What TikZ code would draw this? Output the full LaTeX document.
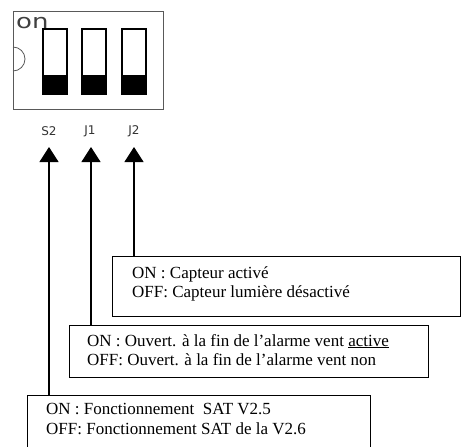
\documentclass[tikz,border=0pt]{standalone}
\usepackage{fontspec}
\setmainfont{Liberation Serif}
\newfontfamily\labelfont{DejaVu Sans}
\newfontfamily\onfont[FakeStretch=1.3]{DejaVu Sans}
\usetikzlibrary{arrows.meta}
\begin{document}
\begin{tikzpicture}[x=1pt,y=-1pt,
  housing/.style={draw=black!65, line width=0.8pt},
  switchbox/.style={draw=black, line width=1.3pt},
  swlabel/.style={font=\labelfont\fontsize{12}{13}\selectfont, text=black!80, inner sep=0pt},
  infobox/.style={draw=black, line width=1pt, anchor=north west, inner sep=0pt},
  infotext/.style={font=\fontsize{17}{19.5}\selectfont, align=left, anchor=west, inner sep=0pt},
  upline/.style={draw=black, line width=1.1pt, -{Triangle[length=15pt,width=19pt]}}]
\useasboundingbox (0,0) rectangle (466,447);
% DIP switch housing
\draw[housing] (13,11) rectangle (163,109);
\draw[housing] (13,47) arc[start angle=90, end angle=-90, radius=12pt];
\node[font=\onfont\fontsize{20}{20}\selectfont, text=black!75, anchor=base west, inner sep=0pt] (on) at (16,28) {on};
% switches
\foreach \x/\n in {43/s, 82/a, 122/b}{
  \fill[black] (\x,75) rectangle (\x+24,94);
  \draw[switchbox] (\x,29) rectangle (\x+24,94);
}
% labels
\node[swlabel] (lS2) at (49,131) {S2};
\node[swlabel] (lJ1) at (90,131) {J1};
\node[swlabel] (lJ2) at (134,131) {J2};
% arrow tips
\coordinate (tS2) at (49,147);
\coordinate (tJ1) at (91,147);
\coordinate (tJ2) at (134,147);
% info boxes
\node[infobox, minimum width=348pt, minimum height=60pt] (bJ2) at (112,256) {};
\node[infotext] (xJ2) at (132,284) {ON : Capteur activé\\OFF: Capteur lumière désactivé};
\node[infobox, minimum width=359pt, minimum height=52pt] (bJ1) at (69,325) {};
\node[infotext] (xJ1) at (87,350) {ON : Ouvert. à la fin de l’alarme vent \underline{active}\\OFF: Ouvert. à la fin de l’alarme vent non};
\node[infobox, minimum width=343pt, minimum height=70pt] (bS2) at (27,395) {};
\node[infotext] (xS2) at (46,419) {ON : Fonctionnement~ SAT V2.5\\OFF: Fonctionnement SAT de la V2.6};
% connectors
\draw[upline] (bJ2.north -| tJ2) -- (tJ2);
\draw[upline] (bJ1.north -| tJ1) -- (tJ1);
\draw[upline] (bS2.north -| tS2) -- (tS2);
\end{tikzpicture}
\end{document}
